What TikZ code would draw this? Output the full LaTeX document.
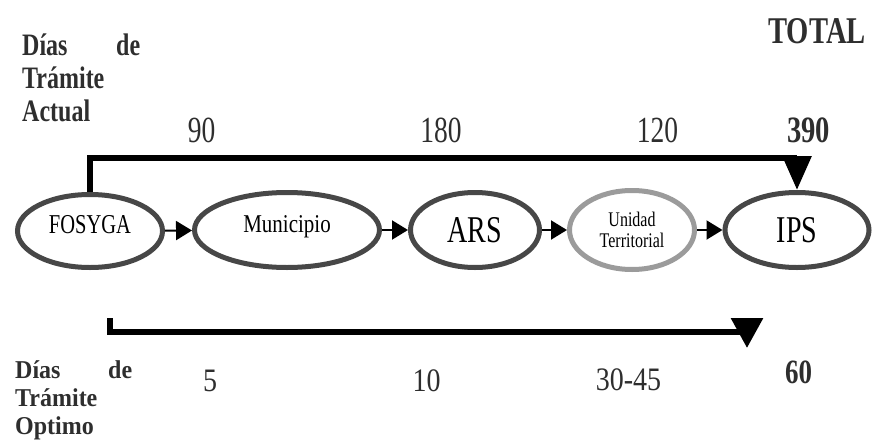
\documentclass[tikz,border=0pt]{standalone}
\usepackage{fontspec}
\setmainfont{Liberation Serif}
\usepackage{graphicx}
\usepackage{xcolor}
\usepackage{tikz}
\usetikzlibrary{shapes,arrows,positioning,calc,arrows.meta}

\definecolor{ringgray}{HTML}{474747}
\definecolor{lightring}{HTML}{9B9B9B}
\definecolor{txtgray}{HTML}{2E2E2E}
\newcommand{\tallt}[2][1.3]{\scalebox{1}[#1]{#2}}

\begin{document}
\begin{tikzpicture}[x=1pt, y=-1pt,
    stage/.style={ellipse, draw=ringgray, line width=5pt, inner sep=0pt, text=black},
    lbl/.style={inner sep=0pt, anchor=base, text=txtgray},
    hop/.style={-{Triangle[length=16pt, width=19pt]}, line width=2pt},
    railtop/.style={-{Triangle[length=34pt, width=28pt]}, line width=6pt},
    railbot/.style={-{Triangle[length=30pt, width=31pt]}, line width=6pt}]
    \useasboundingbox (0,0) rectangle (875,447);

    % entities
    \node [stage, minimum width=145pt, minimum height=73pt, text height=14pt, text depth=10pt, font=\fontsize{20.5}{24}\selectfont] (FOSYGA) at (90,231) {\tallt[1.33]{FOSYGA}};
    \node [stage, minimum width=185pt, minimum height=75pt, text height=14pt, text depth=10pt, font=\fontsize{21}{24}\selectfont] (muni) at (287,230) {\tallt[1.22]{Municipio}};
    \node [stage, minimum width=129pt, minimum height=75pt, text height=26pt, text depth=2pt, font=\fontsize{28}{32}\selectfont] (ARS) at (475,230) {\tallt[1.35]{ARS}};
    \node [stage, draw=lightring, minimum width=125pt, minimum height=79pt, text height=20pt, text depth=3pt, font=\fontsize{16}{16.2}\selectfont] (unidad) at (632,230) {\tallt{\begin{tabular}{@{}c@{}}Unidad\\ Territorial\end{tabular}}};
    \node [stage, minimum width=144pt, minimum height=75pt, text height=26pt, text depth=2pt, font=\fontsize{28}{32}\selectfont] (IPS) at (797,230) {\tallt[1.35]{IPS}};

    \draw [hop] (FOSYGA) -- (muni); \draw [hop] (muni) -- (ARS);
    \draw [hop] (ARS) -- (unidad); \draw [hop] (unidad) -- (IPS);

    % current route
    \coordinate (toprail) at (0,158);
    \draw [railtop] (FOSYGA.north) |- (IPS.north |- toprail) -- (IPS.north);
    \node [lbl, anchor=base west, font=\bfseries\fontsize{24}{25.4}\selectfont] (actual) at (22,55) {\tallt{\begin{tabular}[t]{@{}l@{}}\makebox[118pt][s]{Días\hfill de}\\ Trámite\\ Actual\end{tabular}}};
    \node [lbl, font=\bfseries\fontsize{28.6}{32}\selectfont] (total) at (817,43) {\tallt[1.32]{TOTAL}};
    \node [lbl, font=\fontsize{27.5}{30}\selectfont] (d90) at (201.5,142) {\tallt[1.34]{90}};
    \node [lbl, font=\fontsize{27.5}{30}\selectfont] (d180) at (441,142) {\tallt[1.34]{180}};
    \node [lbl, font=\fontsize{27.5}{30}\selectfont] (d120) at (657.5,142) {\tallt[1.34]{120}};
    \node [lbl, font=\bfseries\fontsize{28.6}{32}\selectfont] (d390) at (808.5,142) {\tallt[1.3]{390}};

    % optimal route
    \coordinate (optstart) at (110,318); \coordinate (optend) at (747,348);
    \coordinate (botrail) at (0,332);
    \draw [railbot] (optstart) |- (optend |- botrail) -- (optend);
    \node [lbl, anchor=base west, font=\bfseries\fontsize{24}{26.6}\selectfont] (optimo) at (15,378) {\tallt[1.07]{\begin{tabular}[t]{@{}l@{}}\makebox[117pt][s]{Días\hfill de}\\ Trámite\\ Optimo\end{tabular}}};
    \node [lbl, font=\fontsize{28}{32}\selectfont] (o5) at (210,391) {\tallt[1.17]{5}};
    \node [lbl, font=\fontsize{28}{32}\selectfont] (o10) at (426.5,391) {\tallt[1.17]{10}};
    \node [lbl, font=\fontsize{28}{32}\selectfont] (o30) at (628.5,390) {\tallt[1.17]{30-45}};
    \node [lbl, font=\bfseries\fontsize{27}{32}\selectfont] (o60) at (798.5,383) {\tallt[1.26]{60}};
\end{tikzpicture}
\end{document}
